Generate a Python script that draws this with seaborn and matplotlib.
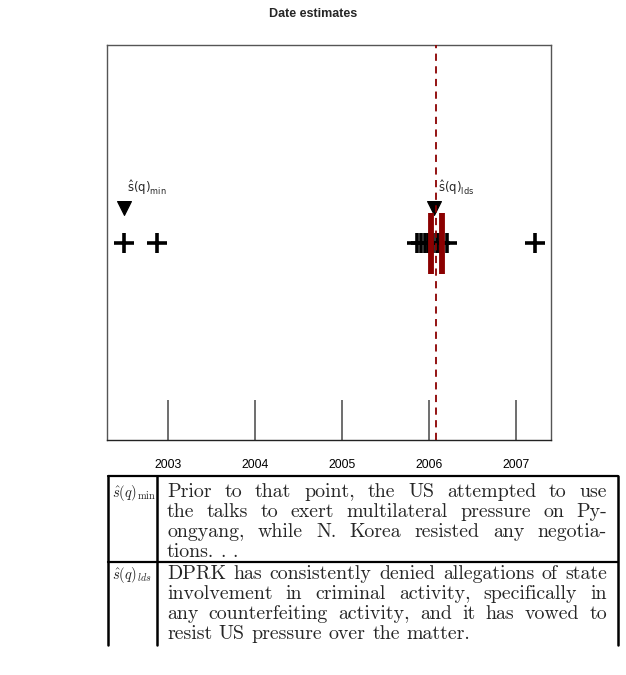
import matplotlib
matplotlib.use("Agg")
import numpy as np
import pandas as pd
import matplotlib.pyplot as plt
import seaborn as sns

# date estimates in decimal years
est_dates = [2002.494, 2002.874, 2005.862, 2005.908, 2005.954, 2005.989,
             2006.046, 2006.092, 2006.126, 2006.207, 2007.218]
marker_dates = [2002.494, 2006.057]
marker_labels = [r"$\hat{\mathrm{s}}(\mathrm{q})_{\mathrm{min}}$",
                 r"$\hat{\mathrm{s}}(\mathrm{q})_{\mathrm{lds}}$"]
true_date = 2006.08
interval_dates = [2006.023, 2006.149]
years = [2003, 2004, 2005, 2006, 2007]
x_range = [2002.30, 2007.40]

table_keys = [r"$\hat{s}(q)_{\min}$", r"$\hat{s}(q)_{lds}$"]
table_lines = [
    ["Prior to that point, the US attempted to use",
     "the talks to exert multilateral pressure on Py-",
     "ongyang, while N. Korea resisted any negotia-",
     "tions. . ."],
    ["DPRK has consistently denied allegations of state",
     "involvement in criminal activity, specifically in",
     "any counterfeiting activity, and it has vowed to",
     "resist US pressure over the matter."],
]

DARK_RED = "#8b0000"
W, H = 626, 675

sns.set_theme(style="white")
plt.rcParams["font.family"] = ["Liberation Sans", "DejaVu Sans"]

fig = plt.figure(figsize=(W / 100, H / 100), dpi=100)
ax = fig.add_axes([107 / W, 1 - 440 / H, 444 / W, 395 / H])

pts = pd.DataFrame({"date": est_dates, "y": 0.5})
sns.scatterplot(data=pts, x="date", y="y", marker="+", color="black",
                s=190, linewidth=2.6, ax=ax, zorder=3)

marks = pd.DataFrame({"date": marker_dates, "y": 0.587})
sns.scatterplot(data=marks, x="date", y="y", marker="v", color="black",
                edgecolor="black", s=100, ax=ax, zorder=3)
for d, lab in zip(marker_dates, marker_labels):
    ax.text(d + 0.04, 0.638, lab, ha="left", va="center", fontsize=8.5,
            math_fontfamily="dejavusans")

ax.vlines(interval_dates, 0.42, 0.575, color=DARK_RED, lw=4.2, zorder=4)
ax.axvline(true_date, color=DARK_RED, ls=(0, (4, 3)), lw=1.3, zorder=5)

ax.set_xlim(*x_range)
ax.set_ylim(0, 1)
ax.set_xticks(years)
ax.set_yticks([])
ax.set_xlabel("")
ax.set_ylabel("")
ax.tick_params(axis="x", direction="in", length=29, width=1.2, color="#555555",
               pad=14, labelsize=8.8, labelcolor="black", bottom=True)
for sp in ax.spines.values():
    sp.set_color("#555555")
    sp.set_linewidth(1.0)
ax.spines["bottom"].set_color("#222222")

fig.text(0.5, 1 - 14 / H, "Date estimates", ha="center", va="center",
         fontsize=9, fontweight="bold")

# table below the plot, drawn in pixel coordinates
tb = fig.add_axes([0, 0, 1, 1])
tb.set_xlim(0, W)
tb.set_ylim(H, 0)
tb.axis("off")
tb.patch.set_alpha(0)

left, sep, right = 108, 157, 618
top, mid, bottom = 476, 562, 645
for yy in (top, mid):
    tb.plot([left, right], [yy, yy], color="black", lw=1.6)
for xx in (left, sep, right):
    tb.plot([xx, xx], [top, bottom], color="black", lw=1.8)

txt_left, txt_right = 167, 607
renderer = fig.canvas.get_renderer()


def width_of(s, size):
    t = tb.text(0, 0, s, fontsize=size, family="cmr10")
    w = t.get_window_extent(renderer).width
    t.remove()
    return w


# pick the font size so the tightest line nearly fills the column
base = 12.0
natural = max(width_of(l, base) for lines in table_lines for l in lines)
fs = base * (txt_right - txt_left - 4) / natural

space = width_of("a a", fs) - width_of("aa", fs)
row_base = [497, 579]
for r, lines in enumerate(table_lines):
    tb.text(112, row_base[r], table_keys[r], fontsize=10.5, va="baseline",
            math_fontfamily="cm")
    for i, line in enumerate(lines):
        words = line.split(" ")
        widths = [width_of(w, fs) for w in words]
        last = i == len(lines) - 1
        if last or len(words) == 1:
            gap = space
        else:
            gap = (txt_right - txt_left - sum(widths)) / (len(words) - 1)
        x = txt_left
        y = row_base[r] + 20 * i
        for w, wd in zip(words, widths):
            tb.text(x, y, w, fontsize=fs, family="cmr10", va="baseline")
            x += wd + gap

fig.savefig("out.png", dpi=100)
